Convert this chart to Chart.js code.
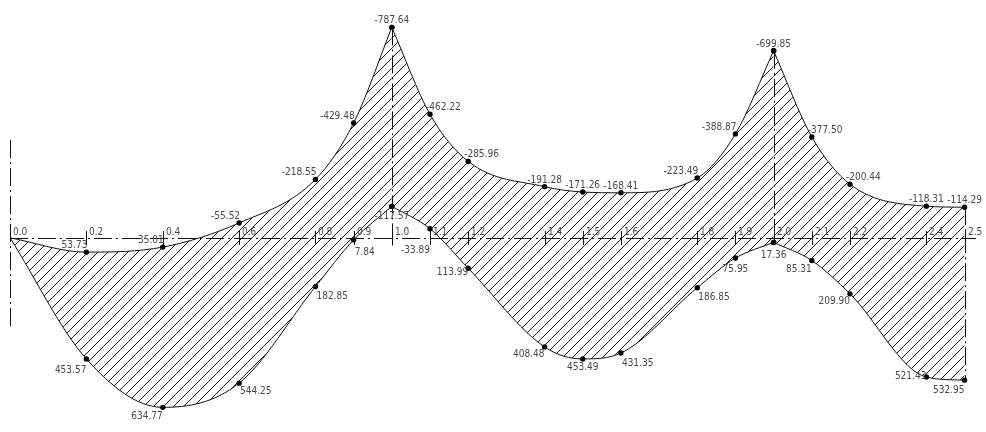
<!DOCTYPE html>
<html>
<head>
<meta charset="utf-8">
<title>Moment envelope</title>
<script src="https://cdn.jsdelivr.net/npm/chart.js@4.4.1/dist/chart.umd.min.js"></script>
<style>
  html, body { margin: 0; padding: 0; background: #fff; }
  #env { display: block; }
</style>
</head>
<body>
<canvas id="env" width="986" height="432"></canvas>
<script>
// section positions along the beam and their printed names
const sections = [0.0, 0.2, 0.4, 0.6, 0.8, 0.9, 1.0, 1.1, 1.2, 1.4, 1.5, 1.6, 1.8, 1.9, 2.0, 2.1, 2.2, 2.4, 2.5];
const sectionNames = ['0.0', '0.2', '0.4', '0.6', '0.8', '0.9', '1.0', '1.1', '1.2', '1.4', '1.5', '1.6', '1.8', '1.9', '2.0', '2.1', '2.2', '2.4', '2.5'];

// envelope values (hogging negative, drawn upward)
const upperMoments = [0, 53.73, 35.01, -55.52, -218.55, -429.48, -787.64, -462.22, -285.96, -191.28, -171.26, -168.41, -223.49, -388.87, -699.85, -377.50, -200.44, -118.31, -114.29];
const lowerMoments = [0, 453.57, 634.77, 544.25, 182.85, 7.84, -117.57, -33.89, 113.99, 408.48, 453.49, 431.35, 186.85, 75.95, 17.36, 85.31, 209.90, 521.43, 532.95];

// first/last section index of each span
const spans = [[0, 6], [6, 14], [14, 18]];

// where each value tag sits relative to its point
const upperPlace = ['', 'l', 'l', 'l', 'l', 'l', 'c', 'r', 'r', 'c', 'c', 'c', 'l', 'l', 'c', 'r', 'r', 'c', 'c'];
const lowerPlace = ['', 'l', 'l', 'r', 'r', 'r', 'c', 'l', 'l', 'l', 'c', 'r', 'r', 'c', 'c', 'l', 'l', 'l', 'l'];
const lowerDrop = [0, 14, 12, 11, 12, 15, 13, 24, 7, 10, 11, 13, 12, 14, 16, 11, 10, 2, 13];

const FONT = '10px "Liberation Sans Narrow", "DejaVu Sans Condensed", sans-serif';
const TEXT = '#4a4a4a';
const DASHDOT = [18, 4, 2, 4];

function hatch() {
  const c = document.createElement('canvas');
  c.width = 10; c.height = 10;
  const g = c.getContext('2d');
  g.strokeStyle = '#1a1a1a';
  g.lineWidth = 1;
  g.beginPath();
  g.moveTo(0, 10); g.lineTo(10, 0);
  g.moveTo(-1, 1); g.lineTo(1, -1);
  g.moveTo(9, 11); g.lineTo(11, 9);
  g.stroke();
  return g.createPattern(c, 'repeat');
}

function piece(values, a, b) {
  const pts = [];
  for (let i = a; i <= b; i++) pts.push({ x: sections[i], y: values[i] });
  return pts;
}

const pattern = hatch();
const datasets = [];
spans.forEach(([a, b]) => {
  const common = {
    borderColor: '#111',
    borderWidth: 1,
    cubicInterpolationMode: 'monotone',
    pointRadius: ctx => (ctx.raw && ctx.raw.x === 0 ? 0 : 2.7),
    pointBackgroundColor: '#000',
    pointBorderWidth: 0,
    pointHoverRadius: 0
  };
  datasets.push(Object.assign({ data: piece(upperMoments, a, b), fill: '+1', backgroundColor: pattern }, common));
  datasets.push(Object.assign({ data: piece(lowerMoments, a, b), fill: false }, common));
});

function vline(ctx, x, y1, y2, dash) {
  ctx.save();
  ctx.setLineDash(dash || []);
  ctx.beginPath();
  ctx.moveTo(x + 0.5, y1);
  ctx.lineTo(x + 0.5, y2);
  ctx.stroke();
  ctx.restore();
}

function tag(ctx, text, x, y, place, shiftL, shiftR) {
  if (place === 'l') { ctx.textAlign = 'right'; x += shiftL; }
  else if (place === 'r') { ctx.textAlign = 'left'; x += shiftR; }
  else ctx.textAlign = 'center';
  ctx.fillText(text, x, y);
}

// axis, support lines, section names and value tags
const beamDecor = {
  id: 'beamDecor',
  afterDatasetsDraw(chart) {
    const ctx = chart.ctx;
    const xs = chart.scales.x, ys = chart.scales.y;
    const y0 = Math.round(ys.getPixelForValue(0));
    const px = v => Math.round(xs.getPixelForValue(v));
    ctx.save();
    ctx.strokeStyle = '#111';
    ctx.lineWidth = 1;

    // beam axis
    ctx.save();
    ctx.setLineDash(DASHDOT);
    ctx.beginPath();
    ctx.moveTo(px(0), y0 + 0.5);
    ctx.lineTo(chart.chartArea.right, y0 + 0.5);
    ctx.stroke();
    ctx.restore();

    // section ticks
    sections.forEach((s, i) => {
      if (i === 0) return;
      vline(ctx, px(s), y0 - 7, y0 + 7);
    });

    // support lines
    vline(ctx, px(0), y0 - 98, y0 + 92, DASHDOT);
    vline(ctx, px(1.0), ys.getPixelForValue(upperMoments[6]), y0 + 8, DASHDOT);
    vline(ctx, px(2.0), ys.getPixelForValue(upperMoments[14]), y0 + 8, DASHDOT);
    vline(ctx, px(2.5), ys.getPixelForValue(upperMoments[18]), ys.getPixelForValue(lowerMoments[18]), DASHDOT);

    ctx.font = FONT;
    ctx.fillStyle = TEXT;
    ctx.textBaseline = 'alphabetic';

    // section names
    ctx.textAlign = 'left';
    sections.forEach((s, i) => ctx.fillText(sectionNames[i], px(s) + 3, y0 - 3));

    // value tags
    sections.forEach((s, i) => {
      if (i === 0) return;
      const x = xs.getPixelForValue(s);
      const yu = ys.getPixelForValue(upperMoments[i]);
      const yl = ys.getPixelForValue(lowerMoments[i]);
      tag(ctx, upperMoments[i].toFixed(2), x, yu - 4, upperPlace[i], 1, -4);
      tag(ctx, lowerMoments[i].toFixed(2), x, yl + lowerDrop[i], lowerPlace[i], 0, 1);
    });
    ctx.restore();
  }
};

new Chart(document.getElementById('env'), {
  type: 'line',
  data: { datasets: datasets },
  options: {
    responsive: false,
    animation: false,
    events: [],
    layout: { padding: { left: 10, right: 10, top: 0, bottom: 0 } },
    plugins: {
      legend: { display: false },
      tooltip: { enabled: false }
    },
    scales: {
      x: { type: 'linear', min: 0, max: 2.53, display: false },
      y: { type: 'linear', min: -880, max: 717, reverse: true, display: false }
    }
  },
  plugins: [beamDecor]
});
</script>
</body>
</html>
